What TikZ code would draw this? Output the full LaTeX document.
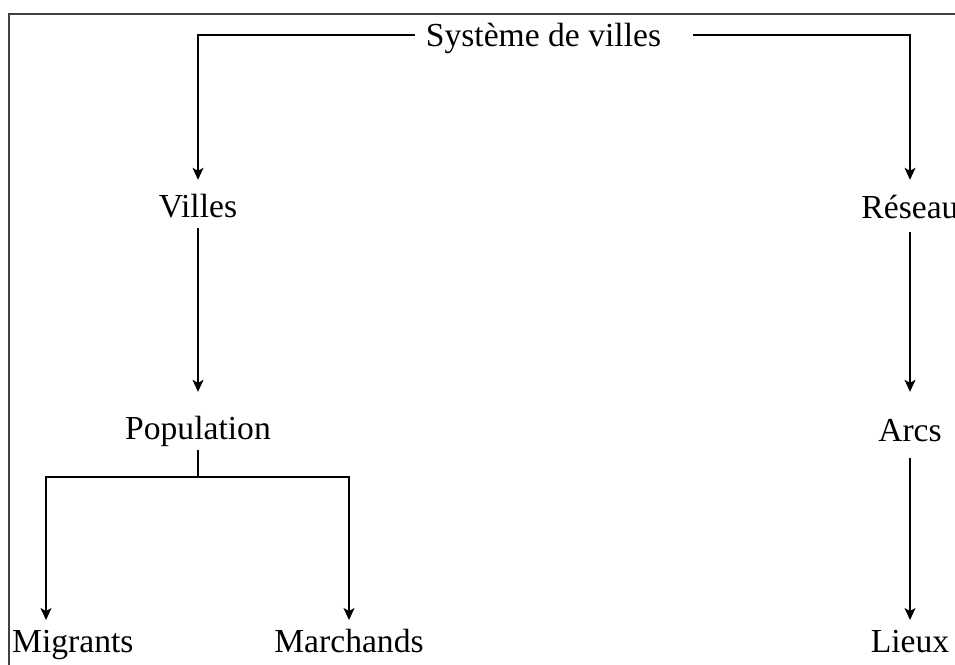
\documentclass[tikz,border=0pt]{standalone}
\usepackage{fontspec}
\setmainfont{Liberation Serif}
\usetikzlibrary{arrows.meta}
\begin{document}
\begin{tikzpicture}[x=1pt,y=-1pt,
  lbl/.style={font=\fontsize{33.6}{40}\selectfont, text height=23pt, text depth=0pt, inner xsep=0pt, inner ysep=0pt},
  conn/.style={line width=1.1pt, draw=black},
  arr/.style={conn, -{Stealth[length=12pt,width=11pt,inset=3pt]}},
  frame/.style={line width=1.1pt, draw=black!75}]
\useasboundingbox (0,0) rectangle (955,664);
% frame
\draw[frame] (9,700) -- (9,14) -- (1000,14);
% nodes
\node[lbl, inner xsep=11pt] (sys) at (543.5,34.5) {Système de villes};
\coordinate (sysR) at (693,35);
\node[lbl, text height=27pt, minimum height=48pt] (villes) at (198,204) {Villes};
\node[lbl, text height=25pt, minimum height=52pt] (reseau) at (910,206) {Réseau};
\node[lbl, text height=37pt, minimum height=58pt] (pop) at (198,421) {Population};
\node[lbl, text height=33pt, minimum height=66pt] (arcs) at (910,425) {Arcs};
\node[lbl, anchor=north west, inner ysep=9pt] (migr) at (12,620) {Migrants};
\node[lbl, anchor=north, inner ysep=9pt] (march) at (349,620) {Marchands};
\node[lbl, anchor=north, inner ysep=9pt] (lieux) at (910,620) {Lieux};
\coordinate (popj) at (198,477);
\coordinate (migin) at (46,620);
% connectors
\draw[arr] (sys.west |- 0,35) -| (villes.north);
\draw[arr] (sysR) -| (reseau.north);
\draw[arr] (villes.south) -- (pop.north);
\draw[arr] (reseau.south) -- (arcs.north);
\draw[arr] (arcs.south) -- (lieux.north);
\draw[conn] (pop.south) -- (popj);
\draw[arr] (popj) -| (migin);
\draw[arr] (popj) -| (march.north);
\end{tikzpicture}
\end{document}
